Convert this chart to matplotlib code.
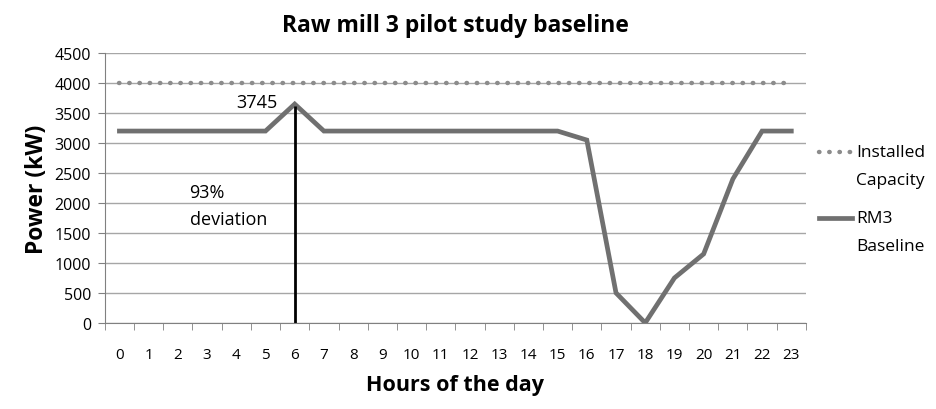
import numpy as np
import matplotlib.pyplot as plt
from matplotlib.lines import Line2D

# Hourly data
hours = list(range(24))
installed = [4000] * 24
baseline = [3200, 3200, 3200, 3200, 3200, 3200, 3650, 3200, 3200, 3200, 3200, 3200,
            3200, 3200, 3200, 3200, 3050, 500, 0, 750, 1150, 2400, 3200, 3200]
peak_hour = 6
peak_label = "3745"
note = "93%\ndeviation"
legend_labels = ["Installed\nCapacity", "RM3\nBaseline"]

plt.rcParams['font.family'] = ['Open Sans', 'DejaVu Sans']

W, H = 936, 410
fig = plt.figure(figsize=(W / 100, H / 100), dpi=100)
ax = fig.add_axes([0.112, 0.21, 0.749, 0.658])

dot_style = dict(color='#8c8c8c', linestyle=(0, (0.1, 2.2)), linewidth=3.2, dash_capstyle='round')
solid_style = dict(color='#707070', linewidth=3.4)

ax.plot(hours, installed, **dot_style)
ax.plot(hours, baseline, solid_joinstyle='miter', **solid_style)
ax.vlines(peak_hour, 0, baseline[peak_hour] - 40, color='black', linewidth=2)
ax.text(5.4, 3600, peak_label, ha='right', va='baseline', fontsize=13)
ax.text(2.4, 1960, note, ha='left', va='center', fontsize=13, linespacing=1.6)

ax.set_xlim(-0.5, 23.5)
ax.set_ylim(0, 4500)
ax.set_yticks(np.arange(0, 4501, 500))
ax.set_xticks(hours)
ax.set_xticks(np.arange(-0.5, 24, 1), minor=True)
ax.tick_params(axis='x', which='major', length=0, pad=17, labelsize=11)
ax.tick_params(axis='x', which='minor', length=5, color='#808080')
ax.tick_params(axis='y', length=5, color='#808080', labelsize=11.5, pad=5)
ax.grid(axis='y', color='#a6a6a6', linewidth=1)
ax.set_axisbelow(True)
for s in ['top', 'right']:
    ax.spines[s].set_visible(False)
for s in ['left', 'bottom']:
    ax.spines[s].set_color('#808080')

ax.set_title('Raw mill 3 pilot study baseline', fontsize=16.5, fontweight='bold', pad=16)
ax.set_ylabel('Power (kW)', fontsize=16.5, fontweight='bold', labelpad=4)
ax.set_xlabel('Hours of the day', fontsize=15.5, fontweight='bold', labelpad=9)

# legend drawn by hand so the sample sits on the first line of the label
for (style, label, y) in [(dot_style, legend_labels[0], 153), (solid_style, legend_labels[1], 219)]:
    fig.add_artist(Line2D([819 / W, 852 / W], [1 - y / H, 1 - y / H], transform=fig.transFigure, **style))
    first, second = label.split('\n')
    fig.text(856 / W, 1 - y / H, first, ha='left', va='center', fontsize=12.5)
    fig.text(856 / W, 1 - (y + 28) / H, second, ha='left', va='center', fontsize=12.5)

fig.savefig('out.png', dpi=100)
